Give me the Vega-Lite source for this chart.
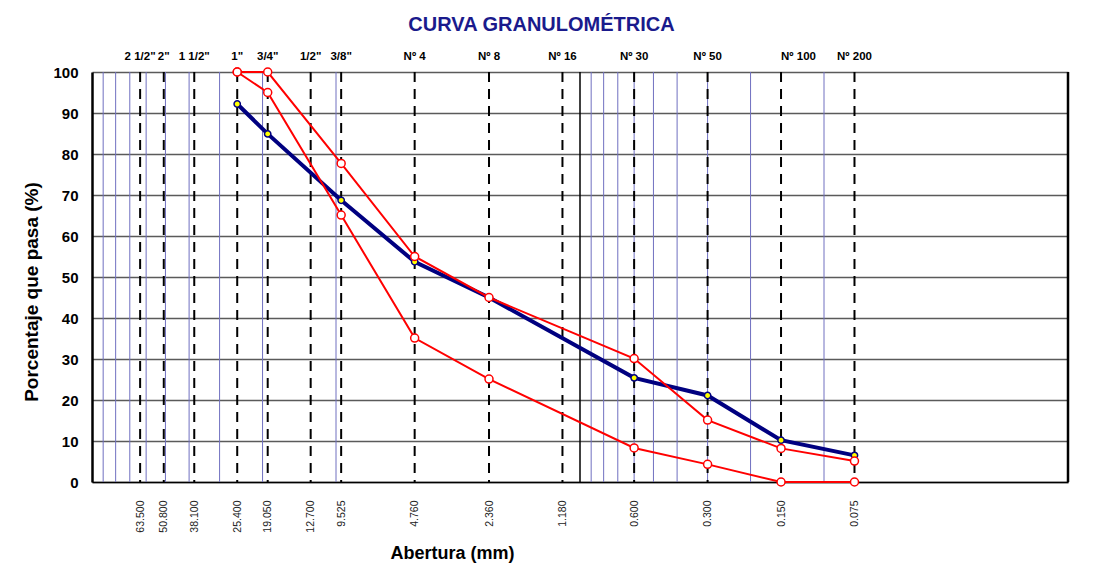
{
  "$schema": "https://vega.github.io/schema/vega-lite/v6.json",
  "width": 976,
  "height": 410,
  "autosize": {"type": "none"},
  "padding": {"left": 92, "top": 72, "right": 32, "bottom": 94},
  "background": "white",
  "config": {"view": {"stroke": null}, "font": "Liberation Sans"},
  "title": {
    "text": "CURVA GRANULOMÉTRICA",
    "font": "Liberation Sans",
    "fontSize": 20,
    "fontWeight": "bold",
    "color": "#1a1a8c",
    "anchor": "middle",
    "frame": "group",
    "dx": -38.5,
    "baseline": "alphabetic",
    "offset": 0
  },
  "datasets": {
    "sieves": [
      {"size": 63.5, "name": "2 1/2\""},
      {"size": 50.8, "name": "2\""},
      {"size": 38.1, "name": "1 1/2\""},
      {"size": 25.4, "name": "1\""},
      {"size": 19.05, "name": "3/4\""},
      {"size": 12.7, "name": "1/2\""},
      {"size": 9.525, "name": "3/8\""},
      {"size": 4.76, "name": "Nº 4"},
      {"size": 2.36, "name": "Nº 8"},
      {"size": 1.18, "name": "Nº 16"},
      {"size": 0.6, "name": "Nº 30"},
      {"size": 0.3, "name": "Nº 50"},
      {"size": 0.15, "name": "Nº 100"},
      {"size": 0.075, "name": "Nº 200"}
    ],
    "minor": [
      {"g": 90}, {"g": 80}, {"g": 70}, {"g": 60}, {"g": 50}, {"g": 40}, {"g": 30}, {"g": 20}, {"g": 10},
      {"g": 0.9}, {"g": 0.8}, {"g": 0.7}, {"g": 0.6}, {"g": 0.5}, {"g": 0.4}, {"g": 0.3}, {"g": 0.2}, {"g": 0.1}
    ],
    "curves": [
      {"serie": "Muestra", "abertura": 25.4, "pasa": 92.2},
      {"serie": "Muestra", "abertura": 19.05, "pasa": 84.9},
      {"serie": "Muestra", "abertura": 9.525, "pasa": 68.7},
      {"serie": "Muestra", "abertura": 4.76, "pasa": 53.7},
      {"serie": "Muestra", "abertura": 2.36, "pasa": 45.0},
      {"serie": "Muestra", "abertura": 0.6, "pasa": 25.4},
      {"serie": "Muestra", "abertura": 0.3, "pasa": 21.1},
      {"serie": "Muestra", "abertura": 0.15, "pasa": 10.2},
      {"serie": "Muestra", "abertura": 0.075, "pasa": 6.5},
      {"serie": "Límite superior", "abertura": 25.4, "pasa": 100},
      {"serie": "Límite superior", "abertura": 19.05, "pasa": 100},
      {"serie": "Límite superior", "abertura": 9.525, "pasa": 77.7},
      {"serie": "Límite superior", "abertura": 4.76, "pasa": 55.0},
      {"serie": "Límite superior", "abertura": 2.36, "pasa": 45.0},
      {"serie": "Límite superior", "abertura": 0.6, "pasa": 30.1},
      {"serie": "Límite superior", "abertura": 0.3, "pasa": 15.1},
      {"serie": "Límite superior", "abertura": 0.15, "pasa": 8.2},
      {"serie": "Límite superior", "abertura": 0.075, "pasa": 5.1},
      {"serie": "Límite inferior", "abertura": 25.4, "pasa": 100},
      {"serie": "Límite inferior", "abertura": 19.05, "pasa": 95.0},
      {"serie": "Límite inferior", "abertura": 9.525, "pasa": 65.1},
      {"serie": "Límite inferior", "abertura": 4.76, "pasa": 35.1},
      {"serie": "Límite inferior", "abertura": 2.36, "pasa": 25.1},
      {"serie": "Límite inferior", "abertura": 0.6, "pasa": 8.3},
      {"serie": "Límite inferior", "abertura": 0.3, "pasa": 4.3},
      {"serie": "Límite inferior", "abertura": 0.15, "pasa": 0},
      {"serie": "Límite inferior", "abertura": 0.075, "pasa": 0}
    ]
  },
  "layer": [
    {
      "data": {"name": "sieves"},
      "mark": {"type": "rule", "color": "#000000", "strokeWidth": 2, "strokeDash": [10, 7], "opacity": 0},
      "encoding": {
        "x": {
          "field": "size", "type": "quantitative",
          "scale": {"type": "log", "domain": [0.01, 100], "reverse": true, "nice": false},
          "axis": {
            "values": [63.5, 50.8, 38.1, 25.4, 19.05, 12.7, 9.525, 4.76, 2.36, 1.18, 0.6, 0.3, 0.15, 0.075],
            "format": ".3f",
            "labelAngle": -90,
            "labelFont": "Liberation Sans",
            "labelFontSize": 10.5,
            "labelColor": "#222222",
            "labelPadding": 18,
            "labelOverlap": false,
            "labelFlush": false,
            "ticks": false,
            "grid": false,
            "domainColor": "#000000",
            "domainWidth": 1.5,
            "title": "Abertura (mm)",
            "titleFont": "Liberation Sans",
            "titleFontSize": 18,
            "titleFontWeight": "bold",
            "titleColor": "#000000",
            "titleX": 360,
            "titleY": 76,
            "titleBaseline": "alphabetic",
            "titleAlign": "center"
          }
        },
        "y": {
          "datum": 0, "type": "quantitative",
          "scale": {"domain": [0, 100], "nice": false},
          "axis": {
            "values": [0, 5, 10, 15, 20, 25, 30, 35, 40, 45, 50, 55, 60, 65, 70, 75, 80, 85, 90, 95, 100],
            "labelExpr": "datum.value % 10 === 0 ? datum.label : ''",
            "labelFont": "Liberation Sans",
            "labelFontSize": 15,
            "labelFontWeight": "bold",
            "labelColor": "#000000",
            "labelPadding": 14,
            "ticks": false,
            "grid": true,
            "gridColor": {"condition": {"test": "datum.value % 10 === 0", "value": "#5a5a5a"}, "value": "#9a9a9a"},
            "gridWidth": 1.5,
            "domainColor": "#000000",
            "domainWidth": 2.5,
            "title": "Porcentaje que pasa (%)",
            "titleFont": "Liberation Sans",
            "titleFontSize": 19,
            "titleFontWeight": "bold",
            "titleColor": "#000000",
            "titleX": -54.5,
            "titleY": 219.5,
            "titleAngle": 270,
            "titleBaseline": "alphabetic",
            "titleAlign": "center"
          }
        }
      }
    },
    {
      "data": {"name": "minor"},
      "mark": {"type": "rule", "color": "#7070c0", "strokeWidth": 1},
      "encoding": {
        "x": {"field": "g", "type": "quantitative", "scale": {"type": "log", "domain": [0.01, 100], "reverse": true, "nice": false}}
      }
    },
    {
      "data": {"values": [{"v": 1}]},
      "mark": {"type": "rule", "color": "#000000", "strokeWidth": 1.5},
      "encoding": {
        "x": {"field": "v", "type": "quantitative", "scale": {"type": "log", "domain": [0.01, 100], "reverse": true, "nice": false}}
      }
    },
    {
      "data": {"values": [{"v": 0.01}]},
      "mark": {"type": "rule", "color": "#000000", "strokeWidth": 2.5},
      "encoding": {
        "x": {"field": "v", "type": "quantitative", "scale": {"type": "log", "domain": [0.01, 100], "reverse": true, "nice": false}}
      }
    },
    {
      "data": {"name": "sieves"},
      "mark": {"type": "rule", "color": "#000000", "strokeWidth": 2, "strokeDash": [10, 7]},
      "encoding": {
        "x": {"field": "size", "type": "quantitative", "scale": {"type": "log", "domain": [0.01, 100], "reverse": true, "nice": false}}
      }
    },
    {
      "data": {"name": "sieves"},
      "mark": {"type": "text", "font": "Liberation Sans", "fontSize": 11.5, "fontWeight": "bold", "color": "#000000", "baseline": "alphabetic", "dy": -12, "align": {"expr": "datum.name === 'Nº 100' ? 'left' : 'center'"}},
      "encoding": {
        "x": {"field": "size", "type": "quantitative", "scale": {"type": "log", "domain": [0.01, 100], "reverse": true, "nice": false}},
        "y": {"datum": 100, "type": "quantitative", "scale": {"domain": [0, 100], "nice": false}},
        "text": {"field": "name"}
      }
    },
    {
      "data": {"name": "curves"},
      "transform": [{"filter": "datum.serie === 'Muestra'"}],
      "mark": {"type": "line", "color": "#000080", "strokeWidth": 4},
      "encoding": {
        "x": {"field": "abertura", "type": "quantitative", "scale": {"type": "log", "domain": [0.01, 100], "reverse": true, "nice": false}},
        "y": {"field": "pasa", "type": "quantitative", "scale": {"domain": [0, 100], "nice": false}}
      }
    },
    {
      "data": {"name": "curves"},
      "transform": [{"filter": "datum.serie === 'Muestra'"}],
      "mark": {"type": "point", "shape": "circle", "filled": true, "fill": "#ffff00", "stroke": "#000080", "strokeWidth": 1.5, "size": 40, "opacity": 1},
      "encoding": {
        "x": {"field": "abertura", "type": "quantitative", "scale": {"type": "log", "domain": [0.01, 100], "reverse": true, "nice": false}},
        "y": {"field": "pasa", "type": "quantitative", "scale": {"domain": [0, 100], "nice": false}}
      }
    },
    {
      "data": {"name": "curves"},
      "transform": [{"filter": "datum.serie !== 'Muestra'"}],
      "mark": {"type": "line", "color": "#ff0000", "strokeWidth": 2},
      "encoding": {
        "x": {"field": "abertura", "type": "quantitative", "scale": {"type": "log", "domain": [0.01, 100], "reverse": true, "nice": false}},
        "y": {"field": "pasa", "type": "quantitative", "scale": {"domain": [0, 100], "nice": false}},
        "detail": {"field": "serie"}
      }
    },
    {
      "data": {"name": "curves"},
      "transform": [{"filter": "datum.serie !== 'Muestra'"}],
      "mark": {"type": "point", "shape": "circle", "filled": true, "fill": "#ffffff", "stroke": "#ff0000", "strokeWidth": 1.5, "size": 64, "opacity": 1},
      "encoding": {
        "x": {"field": "abertura", "type": "quantitative", "scale": {"type": "log", "domain": [0.01, 100], "reverse": true, "nice": false}},
        "y": {"field": "pasa", "type": "quantitative", "scale": {"domain": [0, 100], "nice": false}}
      }
    }
  ]
}
